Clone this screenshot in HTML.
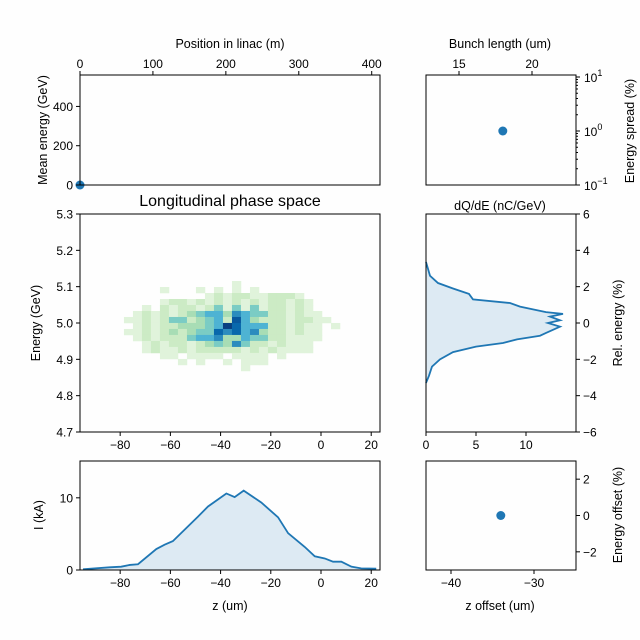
<!DOCTYPE html>
<html><head><meta charset="utf-8">
<style>
html,body{margin:0;padding:0;background:#fefefe;}
svg{display:block;font-family:"Liberation Sans","DejaVu Sans",sans-serif;}
</style></head>
<body>
<svg id="fig" width="640" height="640" viewBox="0 0 640 640"></svg>
<script>
// ---- data ----
const linacPos = [0];
const meanEnergy = [0];
const bunchLength = [18];
const energySpread = [1];
const zOffset = [-34];
const energyOffset = [0];
const currentZ = [-94.8,-84.2,-79.6,-76.2,-72.9,-65.6,-62.3,-59,-49,-45,-37.7,-34.4,-30.8,-23.8,-17.1,-13.1,-6.5,-2.5,1.5,4.8,8.1,12.1,16,22];
const currentI = [0.1,0.37,0.46,0.7,0.8,2.9,3.5,4,7.4,8.8,10.6,10.1,11,9.35,7.3,5.1,3.2,1.9,1.6,1.15,1.15,0.46,0.23,0.18];
const specRel = [3.36,2.6,2.2,1.9,1.6,1.3,1.1,0.9,0.6,0.5,0.35,0.15,0,-0.2,-0.55,-0.7,-0.9,-1.1,-1.3,-1.6,-2,-2.4,-2.9,-3.3];
const specQ = [0,0.4,1.2,2.7,4.3,4.7,8.4,9.4,12,13.7,12.4,13.4,12.2,13.4,12,11.4,9.1,7.7,5,2.7,1.4,0.6,0.3,0];
const heatZStart = -78.5, heatZBin = 3.586, heatETop = 5.1156, heatEBin = 0.0165;
const heatCounts = [
"000000000000100000000000",
"000010001010101000000000",
"000000000121221122210000",
"000012212121212122121000",
"001021221241414122121000",
"012121234553654422121100",
"112124423452853222122110",
"012122333459755522121101",
"112123234476756322121100",
"012122245563354422111100",
"001212212343642212111000",
"001211212222212121111000",
"000011011110111101000000",
"000000101001011100000000",
"000000000000010000000000"];
const xTicksLinac=[0,100,200,300,400], yTicksMean=[0,200,400];
const xTicksBunch=[15,20], yTicksSpread=[-1,0,1];
const xTicksZ=[-80,-60,-40,-20,0,20], yTicksE=[4.7,4.8,4.9,5.0,5.1,5.2,5.3];
const xTicksQ=[0,5,10], yTicksRel=[-6,-4,-2,0,2,4,6];
const yTicksI=[0,10], xTicksOff=[-40,-30], yTicksOff=[-2,0,2];
// ---- helpers ----
const S=document.getElementById('fig');const NS='http://www.w3.org/2000/svg';
function el(t,a,p){const e=document.createElementNS(NS,t);for(const k in a)e.setAttribute(k,a[k]);(p||S).appendChild(e);return e;}
function lin(d0,d1,r0,r1){return v=>r0+(v-d0)/(d1-d0)*(r1-r0);}
function txt(x,y,s,anchor,size,name,rot){const t=el('text',{x:x,y:y,'text-anchor':anchor||'middle','font-size':size||12.5,fill:'#000'});


if(rot)t.setAttribute('transform','rotate('+rot+' '+x+' '+y+')');t.textContent=s;return t;}
function frame(x,y,w,h,name){const r=el('rect',{x:x,y:y,width:w,height:h,fill:'none',stroke:'#000','stroke-width':1});

}
function fmt(v){return v<0?'\u2212'+(-v):''+v;}
function xt(ticks,sx,yl,dir,name){ticks.forEach(v=>{const x=sx(v);el('line',{x1:x,x2:x,y1:yl,y2:yl+dir*4,stroke:'#000'});
txt(x,dir>0?yl+17:yl-7,fmt(v),'middle',12,name+'-tick');});}
function yt(ticks,sy,xl,dir,name,fmtf){ticks.forEach(v=>{const y=sy(v);el('line',{x1:xl,x2:xl+dir*4,y1:y,y2:y,stroke:'#000'});
const lb=fmtf?fmtf(v):fmt(v);
txt(dir<0?xl-7:xl+7,y+4.5,lb,dir<0?'end':'start',12,name+'-tick');});}
function ptn(cx,cy,name){const c=el('circle',{cx:cx,cy:cy,r:4.5,fill:'#1f77b4'});

}
// ---- panel 1: mean energy ----
{const sx=lin(0,410,80,379),sy=lin(0,560,185,75);
ptn(sx(linacPos[0]),sy(meanEnergy[0]),'mean-energy-point');
frame(80,75,300,110,'mean-energy-panel');
xt(xTicksLinac,sx,75,-1,'linac');yt(yTicksMean,sy,80,-1,'mean-energy');
txt(230,48,'Position in linac (m)','middle',12.5,'x-axis-title-linac');
txt(47,130,'Mean energy (GeV)','middle',12.5,'y-axis-title-mean-energy',-90);}
// ---- panel 2: energy spread ----
{const bx=v=>459+(v-15)/5*73;const sy=v=>131-Math.log10(v)*54;
ptn(bx(bunchLength[0]),sy(energySpread[0]),'energy-spread-point');
frame(426,75,150,110,'energy-spread-panel');
xt(xTicksBunch,bx,75,-1,'bunch');
yTicksSpread.forEach(p=>{const y=131-p*54;el('line',{x1:576,x2:580,y1:y,y2:y,stroke:'#000'});
const t=el('text',{x:584,y:y+5,'font-size':12});


t.textContent='10';const s=el('tspan',{dy:-6,'font-size':9},t);s.textContent=p<0?'\u2212'+(-p):''+p;});
for(let p=-1;p<1;p++)for(let m=2;m<10;m++){const y=131-(p+Math.log10(m))*54;el('line',{x1:576,x2:578,y1:y,y2:y,stroke:'#000'});}
txt(500,48,'Bunch length (um)','middle',12.5,'x-axis-title-bunch');
txt(634,131,'Energy spread (%)','middle',12.5,'y-axis-title-spread',-90);}
// ---- panel 3: phase space ----
const zx=lin(-96,23.5,80,380);
{const sy=lin(4.7,5.3,432,214);
const cols=['#fefefe','#e0f3db','#ccebc5','#a8ddb5','#7bccc4','#4eb3d3','#2b8cbe','#0868ac','#08589e','#084081'];
heatCounts.forEach((row,r)=>{for(let c=0;c<row.length;c++){const v=+row[c];if(!v)continue;
const z0=heatZStart+c*heatZBin,e0=heatETop-r*heatEBin;
const rc=el('rect',{x:zx(z0),y:sy(e0),width:zx(z0+heatZBin)-zx(z0)+0.3,height:sy(e0-heatEBin)-sy(e0)+0.3,fill:cols[v]});

}});
frame(80,214,300,218,'phase-space-panel');
xt(xTicksZ,zx,432,1,'z');yt(yTicksE,sy,80,-1,'energy',v=>v.toFixed(1));
txt(230,206,'Longitudinal phase space','middle',16,'phase-space-title');
txt(40,323,'Energy (GeV)','middle',12.5,'y-axis-title-energy',-90);}
// ---- panel 4: spectrum ----
{const sx=lin(0,15,426,576),sy=lin(-6,6,432,214);
let d='M'+sx(0)+','+sy(specRel[0]);specRel.forEach((r,i)=>d+=' L'+sx(specQ[i])+','+sy(r));
const f=el('path',{d:d+' L'+sx(0)+','+sy(specRel[specRel.length-1])+'Z',fill:'#1f77b4','fill-opacity':0.15});


const l=el('path',{d:d,fill:'none',stroke:'#1f77b4','stroke-width':1.8});


frame(426,214,150,218,'spectrum-panel');
xt(xTicksQ,sx,432,1,'charge');yt(yTicksRel,sy,576,1,'rel-energy');
txt(500,210,'dQ/dE (nC/GeV)','middle',12.5,'spectrum-title');
txt(622,323,'Rel. energy (%)','middle',12.5,'y-axis-title-rel-energy',-90);}
// ---- panel 5: current ----
{const sy=lin(0,15.1,570,461);
let d='M'+zx(currentZ[0])+','+sy(currentI[0]);currentZ.forEach((z,i)=>d+=' L'+zx(z)+','+sy(currentI[i]));
const f=el('path',{d:d+' L'+zx(currentZ[currentZ.length-1])+','+sy(0)+' L'+zx(currentZ[0])+','+sy(0)+'Z',fill:'#1f77b4','fill-opacity':0.15});


const l=el('path',{d:d,fill:'none',stroke:'#1f77b4','stroke-width':1.8});


frame(80,461,300,109,'current-panel');
xt(xTicksZ,zx,570,1,'z-current');yt(yTicksI,sy,80,-1,'current');
txt(230,610,'z (um)','middle',12.5,'x-axis-title-z');
txt(43,515,'I (kA)','middle',12.5,'y-axis-title-current',-90);}
// ---- panel 6: offset ----
{const sx=lin(-40,-30,451,534),sy=lin(-3,3,570,461);
ptn(sx(zOffset[0]),sy(energyOffset[0]),'offset-point');
frame(426,461,150,109,'offset-panel');
xt(xTicksOff,sx,570,1,'z-offset');yt(yTicksOff,sy,576,1,'energy-offset');
txt(500,610,'z offset (um)','middle',12.5,'x-axis-title-z-offset');
txt(622,515,'Energy offset (%)','middle',12.5,'y-axis-title-energy-offset',-90);}
</script>
</body></html>
